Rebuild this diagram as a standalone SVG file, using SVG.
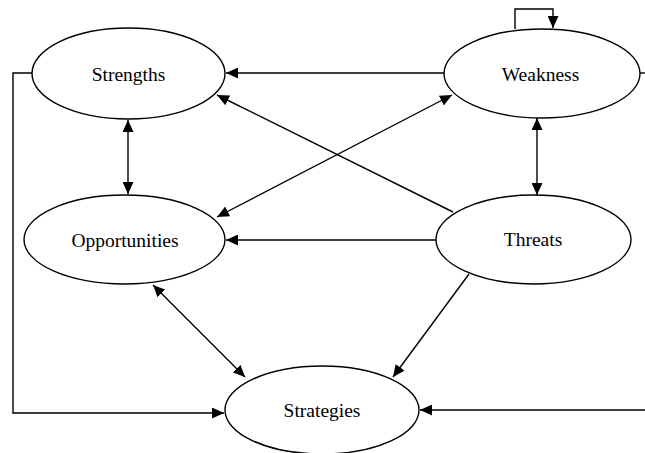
<svg xmlns="http://www.w3.org/2000/svg" width="645" height="453" viewBox="0 0 645 453">
<style>
.node ellipse{fill:#fff;stroke:#000;stroke-width:1.4}
.node text{font-family:"Liberation Serif","Times New Roman",serif;font-size:19.5px;fill:#000;text-anchor:middle}
#edges line,#edges polyline{stroke:#000;stroke-width:1.4;fill:none}
</style>
<defs>
<marker id="ah" markerUnits="userSpaceOnUse" markerWidth="13" markerHeight="11" refX="12" refY="5.5" orient="auto-start-reverse">
<path d="M0,0 L12,5.5 L0,11 z" fill="#000"/>
</marker>
</defs>
<rect width="645" height="453" fill="#fff"/>
<g id="edges">
<line x1="444" y1="73" x2="226" y2="73" marker-end="url(#ah)"/>
<polyline points="32,73 13,73 13,413 224,413" marker-end="url(#ah)"/>
<line x1="645" y1="410" x2="420" y2="410" marker-end="url(#ah)"/>
<line x1="640" y1="73" x2="645" y2="73"/>
<polyline points="515,29 515,9 553,9 553,28" marker-end="url(#ah)"/>
<line x1="128" y1="120" x2="128" y2="194" marker-start="url(#ah)" marker-end="url(#ah)"/>
<line x1="537" y1="118" x2="537" y2="195" marker-start="url(#ah)" marker-end="url(#ah)"/>
<line x1="453" y1="212" x2="217" y2="95" marker-end="url(#ah)"/>
<line x1="217" y1="217" x2="452" y2="95" marker-start="url(#ah)" marker-end="url(#ah)"/>
<line x1="436" y1="240" x2="226" y2="240" marker-end="url(#ah)"/>
<line x1="153" y1="285" x2="245" y2="377" marker-start="url(#ah)" marker-end="url(#ah)"/>
<line x1="469" y1="274" x2="393" y2="377" marker-end="url(#ah)"/>
</g>
<g id="strengths" class="node"><ellipse cx="128.5" cy="73.5" rx="96.5" ry="45.5"/><text x="128.5" y="80.5">Strengths</text></g>
<g id="weakness" class="node"><ellipse cx="542" cy="73.5" rx="98" ry="44.5"/><text x="540.5" y="80.5">Weakness</text></g>
<g id="opportunities" class="node"><ellipse cx="124.5" cy="239.5" rx="100.5" ry="44.5"/><text x="125" y="246.5">Opportunities</text></g>
<g id="threats" class="node"><ellipse cx="533.5" cy="239.5" rx="97.5" ry="44.5"/><text x="533" y="246">Threats</text></g>
<g id="strategies" class="node"><ellipse cx="322" cy="410" rx="97" ry="44"/><text x="322" y="416.5">Strategies</text></g>
</svg>
